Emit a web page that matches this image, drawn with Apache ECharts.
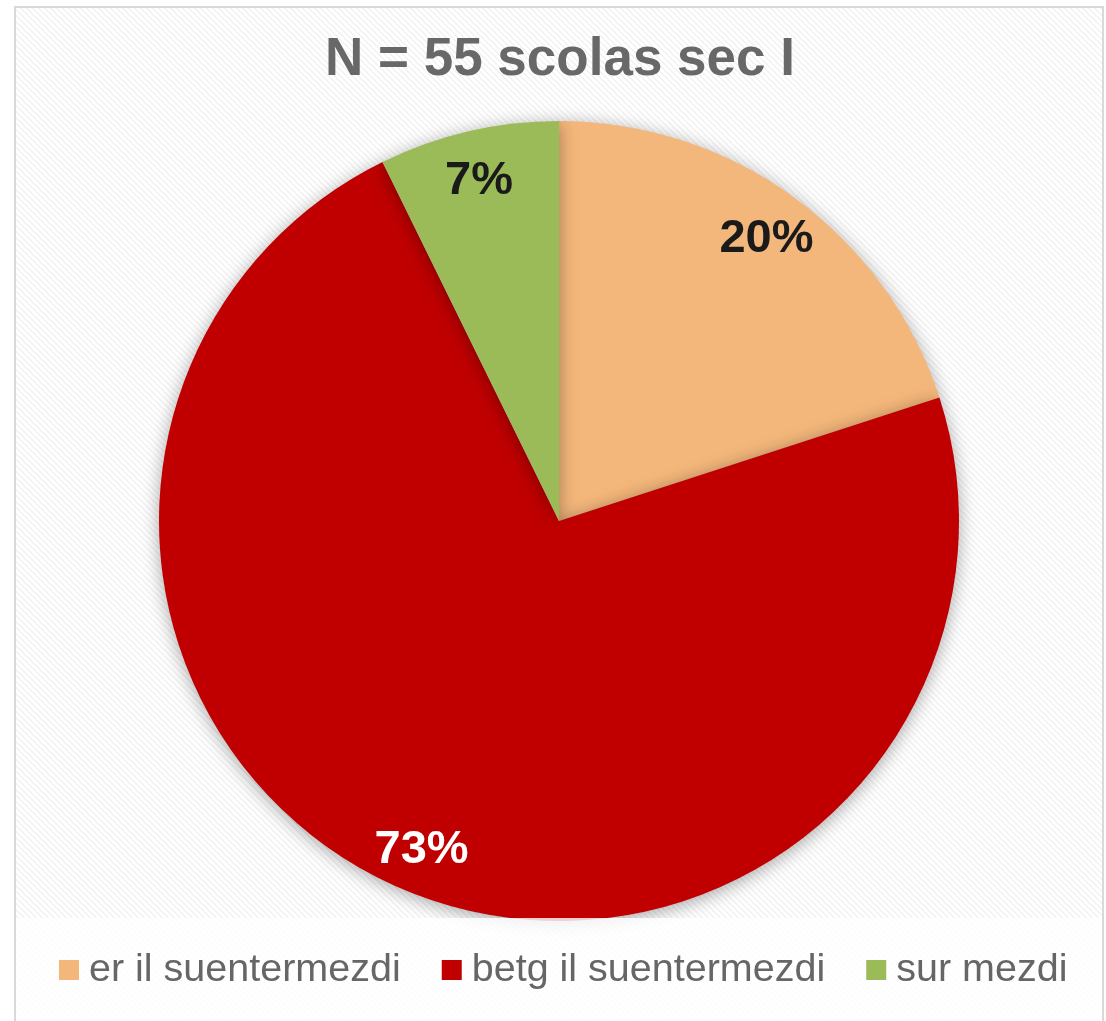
<!DOCTYPE html>
<html><head><meta charset="utf-8">
<script src="https://cdn.jsdelivr.net/npm/echarts@6/dist/echarts.min.js"></script>
<style>html,body{margin:0;padding:0;background:#fff}#c{width:1106px;height:1021px}</style>
</head><body><div id="c"></div>
<script>
const titleText = 'N = 55 scolas sec I';
const categories = ['er il suentermezdi', 'betg il suentermezdi', 'sur mezdi'];
const values = [11, 40, 4];
const colors = ['#F4B77B', '#C00000', '#9BBB59'];
const labelColors = ['#1a1a1a', '#ffffff', '#1a1a1a'];

// hatch pattern
const pc = document.createElement('canvas');
pc.width = 6; pc.height = 6;
const pctx = pc.getContext('2d');
pctx.fillStyle = '#ffffff'; pctx.fillRect(0,0,6,6);
pctx.fillStyle = '#f2f2f2';
for (let y = 0; y < 6; y++) for (let x = 0; x < 6; x++) {
  if (((x - y) % 6 + 6) % 6 < 2) pctx.fillRect(x, y, 1, 1);
}

const chart = echarts.init(document.getElementById('c'), null, {renderer: 'canvas'});
const data = categories.map((c, i) => ({name: c, value: values[i], itemStyle: {color: colors[i]}}));
chart.setOption({
  backgroundColor: '#ffffff',
  animation: false,
  color: colors,
  title: {
    text: titleText, left: 320, top: 29,
    textStyle: {fontFamily: 'Liberation Sans, Arial', fontWeight: 'bold', fontSize: 53, color: '#686868'}
  },
  graphic: [
    {type: 'rect', z: -10, silent: true, shape: {x: 15, y: 7, width: 1088, height: 1030},
     style: {fill: {image: pc, repeat: 'repeat'}, stroke: '#d9d9d9', lineWidth: 2}},
    {type: 'rect', z: 3, zlevel: 0, silent: true, shape: {x: 16, y: 918, width: 1086, height: 120},
     style: {fill: 'rgba(255,255,255,0.82)'}}
  ],
  legend: {
    data: categories, bottom: 26, left: 54, z: 5,
    itemWidth: 20, itemHeight: 20, itemGap: 41, icon: 'rect',
    textStyle: {fontFamily: 'Liberation Sans, Arial', fontSize: 39.5, color: '#666666', padding: [0,0,0,5]}
  },
  series: [
    {
      type: 'pie', center: [559, 521], radius: 400, startAngle: 90, clockwise: true,
      z: 2, silent: true, percentPrecision: 0,
      label: {show: false}, labelLine: {show: false},
      itemStyle: {borderWidth: 0, shadowBlur: 18, shadowColor: 'rgba(0,0,0,0.35)', shadowOffsetY: 3},
      data: data
    },
    {
      type: 'pie', center: [559, 521], radius: [300, 400], startAngle: 90, clockwise: true,
      z: 2, silent: true, percentPrecision: 0,
      itemStyle: {color: 'rgba(0,0,0,0)', borderWidth: 0},
      label: {show: true, position: 'inside', formatter: '{d}%', fontFamily: 'Liberation Sans, Arial', fontWeight: 'bold', fontSize: 47},
      labelLayout: {dy: 4},
      labelLine: {show: false},
      data: categories.map((c, i) => ({name: c, value: values[i], label: {color: labelColors[i]}}))
    }
  ]
});
</script></body></html>
